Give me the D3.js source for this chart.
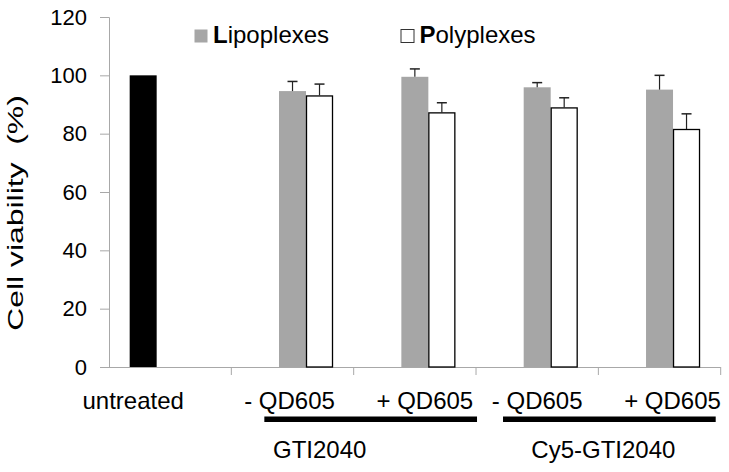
<!DOCTYPE html>
<html><head><meta charset="utf-8">
<script src="https://cdn.jsdelivr.net/npm/d3@7/dist/d3.min.js"></script>
<style>body{margin:0;background:#fff}svg{display:block}text{font-family:"Liberation Sans",Arial,sans-serif;fill:#000}</style>
</head><body><svg id="c" width="729" height="472"></svg>
<script>
const categories = ["untreated", "- QD605", "+ QD605", "- QD605 ", "+ QD605 "];
const seriesNames = ["Untreated", "Lipoplexes", "Polyplexes"];
const untreatedValues = [100, null, null, null, null];
const lipoValues = [null, 94.6, 99.5, 95.9, 95.1];
const lipoErrors = [null, 3.3, 2.7, 1.6, 4.9];
const polyValues = [null, 93.1, 87.3, 89.0, 81.6];
const polyErrors = [null, 3.9, 3.3, 3.3, 5.2];
const yTicks = [0, 20, 40, 60, 80, 100, 120];
const groups = [{name: "GTI2040", from: 1, to: 2}, {name: "Cy5-GTI2040", from: 3, to: 4}];
const legendItems = ["Lipoplexes", "Polyplexes"];

(function () {
const colors = {Untreated: "#000", Lipoplexes: "#a6a6a6", Polyplexes: "#fff"};
const strokes = {Untreated: "none", Lipoplexes: "none", Polyplexes: "#000"};
const labelShift = [-37, -3, 10, 0, 13];

const svg = d3.select("#c");
const mLeft = 109, mRight = 720.7, mTop = 17, mBottom = 367;
const x0 = d3.scaleBand().domain(categories).range([mLeft, mRight]).paddingInner(0.338).paddingOuter(0.169);
const x1 = d3.scaleBand().domain(seriesNames).range([0, x0.bandwidth()]);
const y = d3.scaleLinear().domain([0, 120]).range([mBottom, mTop]);
const axisColor = "#a8a8a8";

// y axis
const yAxis = svg.append("g").attr("transform", `translate(${mLeft},0)`)
  .call(d3.axisLeft(y).tickValues(yTicks).tickSize(9).tickPadding(13));
yAxis.select(".domain").attr("stroke", axisColor);
yAxis.selectAll(".tick line").attr("stroke", axisColor);
yAxis.selectAll(".tick text").attr("font-size", 22).attr("font-family", '"Liberation Sans",Arial,sans-serif').attr("fill", "#000");

// x axis
const step = x0.step();
const gap = (step - x0.bandwidth()) / 2;
const bounds = categories.map(c => x0(c) - gap).concat([x0(categories[categories.length-1]) - gap + step]);
svg.append("line").attr("x1", mLeft).attr("x2", bounds[bounds.length-1]).attr("y1", y(0)+0.5).attr("y2", y(0)+0.5).attr("stroke", axisColor);
svg.selectAll(".xt").data(bounds.slice(1)).join("line")
  .attr("x1", d => d).attr("x2", d => d).attr("y1", y(0)).attr("y2", y(0)+8).attr("stroke", axisColor);

// bars
const rows = categories.map((c, i) => ({c, i, vals: [
  {s: "Untreated", v: untreatedValues[i], e: null},
  {s: "Lipoplexes", v: lipoValues[i], e: lipoErrors[i]},
  {s: "Polyplexes", v: polyValues[i], e: polyErrors[i]}].filter(d => d.v != null)}));
const g = svg.selectAll(".grp").data(rows).join("g").attr("transform", d => `translate(${x0(d.c)},0)`);
const hasStroke = d => strokes[d.s] !== "none";
g.selectAll("rect").data(d => d.vals).join("rect")
  .attr("x", d => x1(d.s) + (hasStroke(d) ? 0.5 : 0))
  .attr("y", d => y(d.v) + (hasStroke(d) ? 0.5 : 0))
  .attr("width", d => x1.bandwidth() - (hasStroke(d) ? 1 : 0))
  .attr("height", d => y(0) - y(d.v) - (hasStroke(d) ? 0.5 : 0))
  .attr("fill", d => colors[d.s]).attr("stroke", d => strokes[d.s]).attr("stroke-width", 1.3);
// error bars
const eb = g.selectAll(".eb").data(d => d.vals.filter(v => v.e != null)).join("g");
const cx = d => x1(d.s) + x1.bandwidth()/2;
eb.append("line").attr("x1", cx).attr("x2", cx)
  .attr("y1", d => y(d.v)).attr("y2", d => y(d.v + d.e)).attr("stroke", "#222").attr("stroke-width", 1.2);
eb.append("line").attr("x1", d => cx(d) - 5).attr("x2", d => cx(d) + 5)
  .attr("y1", d => y(d.v + d.e)).attr("y2", d => y(d.v + d.e)).attr("stroke", "#222").attr("stroke-width", 1.5);

// x labels
svg.selectAll(".xl").data(categories).join("text")
  .attr("x", (d, i) => x0(d) + x0.bandwidth()/2 + labelShift[i]).attr("y", 409)
  .attr("text-anchor", "middle").attr("font-size", 24).text(d => d.trim());

// group lines and labels
groups.forEach(gr => {
  const x1p = bounds[gr.from] + (gr.from === 1 ? 33 : 27);
  const x2p = bounds[gr.to + 1] - (gr.to === 2 ? -1 : 5);
  svg.append("rect").attr("x", x1p).attr("y", 416.5).attr("width", x2p - x1p).attr("height", 5.5).attr("fill", "#000");
  svg.append("text").attr("x", (bounds[gr.from] + bounds[gr.to+1])/2 + (gr.from === 1 ? -34 : 5)).attr("y", 458)
    .attr("text-anchor", "middle").attr("font-size", 24).text(gr.name);
});

// legend
const legX = [194, 400.5];
legendItems.forEach((name, i) => {
  svg.append("rect").attr("x", legX[i] + 0.5).attr("y", 29.5).attr("width", 13).attr("height", 13)
    .attr("fill", colors[name]).attr("stroke", name === "Polyplexes" ? "#333" : "none").attr("stroke-width", 1);
  const t = svg.append("text").attr("x", legX[i] + 19).attr("y", 43).attr("font-size", 24);
  t.append("tspan").attr("font-weight", "bold").text(name[0]);
  t.append("tspan").text(name.slice(1));
});

// y title
svg.append("text").attr("transform", `translate(23,${(mTop+mBottom)/2 + 21}) rotate(-90) scale(1.45,1)`)
  .attr("text-anchor", "middle").attr("font-size", 22).style("white-space", "pre").text("Cell viability  (%)");
})();
</script></body></html>
